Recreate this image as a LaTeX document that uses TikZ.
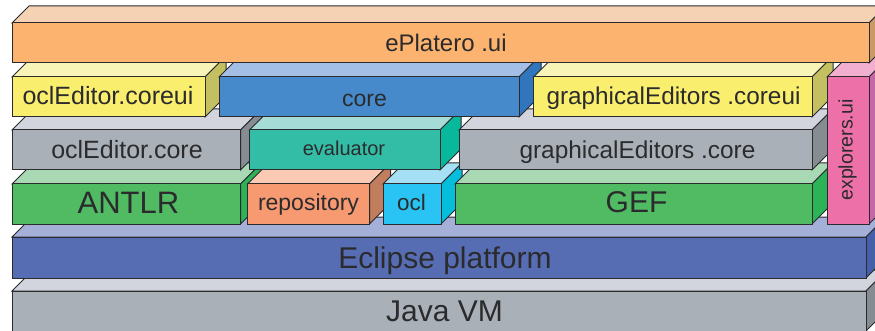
\documentclass[tikz,border=0pt]{standalone}
\usepackage{fontspec}
\setmainfont{Liberation Sans}
\definecolor{inkc}{HTML}{2B2B2D}
\definecolor{orangeF}{HTML}{FBB36F}\definecolor{orangeT}{HTML}{F4D2B3}\definecolor{orangeS}{HTML}{C99A64}
\definecolor{yellowF}{HTML}{F9EE6E}\definecolor{yellowT}{HTML}{F8F4B8}\definecolor{yellowS}{HTML}{C4C062}
\definecolor{blueF}{HTML}{478ACB}\definecolor{blueT}{HTML}{A3BFE5}\definecolor{blueS}{HTML}{3175BC}
\definecolor{grayF}{HTML}{A9B0B7}\definecolor{grayT}{HTML}{D2D5DE}\definecolor{grayS}{HTML}{858C92}
\definecolor{tealF}{HTML}{33BDA7}\definecolor{tealT}{HTML}{A5DCD5}\definecolor{tealS}{HTML}{08B89C}
\definecolor{greenF}{HTML}{50BB63}\definecolor{greenT}{HTML}{A9D8B5}\definecolor{greenS}{HTML}{2CB257}
\definecolor{salmonF}{HTML}{F79A71}\definecolor{salmonT}{HTML}{FBCAB5}\definecolor{salmonS}{HTML}{C07E5E}
\definecolor{cyanF}{HTML}{29C4F3}\definecolor{cyanT}{HTML}{A6E0F5}\definecolor{cyanS}{HTML}{05BEDC}
\definecolor{indigoF}{HTML}{576DB3}\definecolor{indigoT}{HTML}{A5B0D9}\definecolor{indigoS}{HTML}{4560AB}
\definecolor{pinkF}{HTML}{EE70A9}\definecolor{pinkT}{HTML}{F3AFD0}\definecolor{pinkS}{HTML}{C765A9}
\tikzset{
  edgeline/.style={draw=inkc,line width=1pt,line join=miter},
  lbl/.style={text=inkc,inner sep=0pt,anchor=base},
}
% colour prefix, x0, y0, x1, y1, depth
\newcommand{\blockbox}[6]{%
  \path[edgeline,fill=#1T] (#2,#3) -- ++(#6,-#6) -- (#4+#6,#3-#6) -- (#4,#3) -- cycle;
  \path[edgeline,fill=#1S] (#4,#3) -- ++(#6,-#6) -- (#4+#6,#5-#6) -- (#4,#5) -- cycle;
  \path[edgeline,fill=#1F] (#2,#3) rectangle (#4,#5);
}
\begin{document}
\begin{tikzpicture}[x=1pt,y=-1pt]
\useasboundingbox (0,0) rectangle (875,331);
\clip (0,0) rectangle (875,331);
\fill[white] (0,0) rectangle (875,331);
% bottom layers first
\blockbox{gray}{12}{291}{866}{331}{21}
\blockbox{indigo}{12}{237}{866}{278}{20}
\blockbox{green}{12}{184}{240.5}{224}{21}
\blockbox{salmon}{247.5}{184}{369.5}{224}{21}
\blockbox{cyan}{383}{184}{441}{224}{21}
\blockbox{green}{455}{184}{812}{224}{21}
\blockbox{gray}{12}{130}{240.5}{170}{21}
\blockbox{teal}{249.5}{130}{440}{170}{21}
\blockbox{gray}{459}{130}{812}{170}{21}
\blockbox{yellow}{12}{77}{205}{117}{21}
\blockbox{blue}{219}{77}{519}{117}{22}
\blockbox{yellow}{533.5}{77}{812}{117}{21}
\blockbox{pink}{827}{77}{869}{224}{21}
\blockbox{orange}{12}{23}{869}{63}{17}
% labels
\node[lbl,font=\fontsize{30}{32}\selectfont] (javavm) at (444.5,321) {Java VM};
\node[lbl,font=\fontsize{30}{32}\selectfont] (eclipse) at (445,268) {Eclipse platform};
\node[lbl,font=\fontsize{31}{32}\selectfont] (antlr) at (128.5,213) {ANTLR};
\node[lbl,font=\fontsize{23}{26}\selectfont] (repository) at (308.5,211) {repository};
\node[lbl,font=\fontsize{22.5}{26}\selectfont] (ocl) at (411.5,211) {ocl};
\node[lbl,font=\fontsize{30}{32}\selectfont] (gef) at (636.5,212.5) {GEF};
\node[lbl,font=\fontsize{25}{28}\selectfont] (oclcore) at (127,158.5) {oclEditor.core};
\node[lbl,font=\fontsize{20}{24}\selectfont] (evaluator) at (344,156) {evaluator};
\node[lbl,font=\fontsize{24.4}{28}\selectfont] (gecore) at (637.5,158.5) {graphicalEditors .core};
\node[lbl,font=\fontsize{25}{28}\selectfont] (oclcoreui) at (108,105) {oclEditor.coreui};
\node[lbl,font=\fontsize{23}{26}\selectfont] (core) at (364.5,107) {core};
\node[lbl,font=\fontsize{24.3}{28}\selectfont] (gecoreui) at (673.5,105) {graphicalEditors .coreui};
\node[lbl,font=\fontsize{19.6}{24}\selectfont,rotate=90] (explorers) at (852.5,150) {explorers.ui};
\node[lbl,font=\fontsize{24}{28}\selectfont] (eplatero) at (446,51.5) {ePlatero .ui};
\end{tikzpicture}
\end{document}
